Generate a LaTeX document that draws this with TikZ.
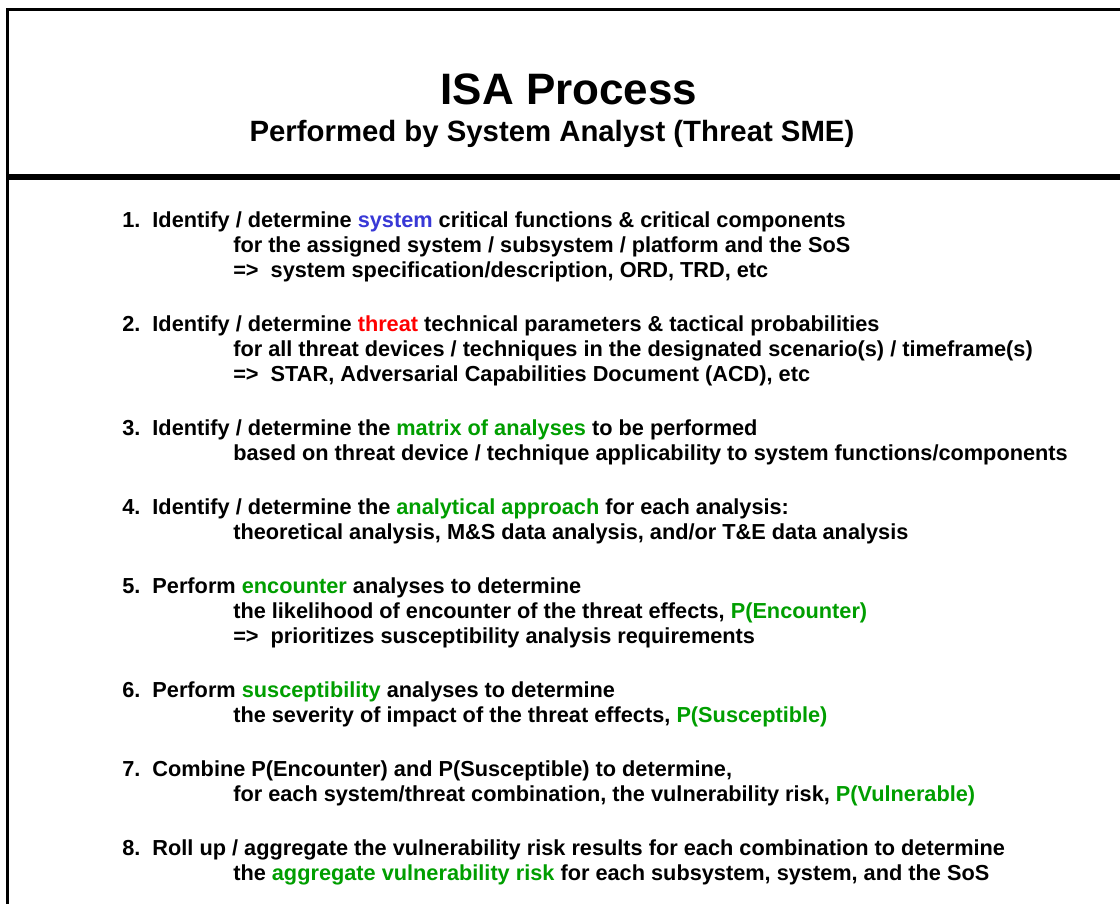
\documentclass[tikz,border=0pt]{standalone}
\usepackage{fontspec}
\setmainfont{Liberation Sans}
\usepackage{xcolor}
\definecolor{sysblue}{RGB}{56,56,214}
\definecolor{thrred}{RGB}{255,0,0}
\definecolor{keygreen}{RGB}{0,158,0}
\def\ind{\hspace*{83.25pt}}
\def\grn#1{\textcolor{keygreen}{#1}}

\begin{document}
\begin{tikzpicture}[x=0.75pt,y=-0.75pt,
  every node/.style={inner sep=0pt},
  head/.style={anchor=base,font=\bfseries\fontsize{33}{40}\selectfont},
  subhead/.style={anchor=base,font=\bfseries\fontsize{22}{26}\selectfont},
  item/.style={anchor=north west,align=left,font=\bfseries\fontsize{16.3}{18.75}\selectfont}]
\useasboundingbox (0,0) rectangle (1120,903);
% frame and header rule
\draw[line width=2.25pt] (1130,9.5) -- (7,9.5) -- (7,910);
\draw[line width=4.5pt] (7,177) -- (1130,177);
% header
\node[head] (title) at (569,104) {ISA Process};
\node[subhead] (sub) at (552,141) {Performed by System Analyst (Threat SME)};
% steps
\node[item] (i1) at (122,211.5) {1.\ \ Identify / determine \textcolor{sysblue}{system} critical functions \& critical components\\
  \ind for the assigned system / subsystem / platform and the SoS\\
  \ind =>\ \ system specification/description, ORD, TRD, etc};
\node[item] (i2) at (122,315.5) {2.\ \ Identify / determine \textcolor{thrred}{threat} technical parameters \& tactical probabilities\\
  \ind for all threat devices / techniques in the designated scenario(s) / timeframe(s)\\
  \ind =>\ \ STAR, Adversarial Capabilities Document (ACD), etc};
\node[item] (i3) at (122,419.5) {3.\ \ Identify / determine the \grn{matrix of analyses} to be performed\\
  \ind based on threat device / technique applicability to system functions/components};
\node[item] (i4) at (122,498.5) {4.\ \ Identify / determine the \grn{analytical approach} for each analysis:\\
  \ind theoretical analysis, M\&S data analysis, and/or T\&E data analysis};
\node[item] (i5) at (122,577.5) {5.\ \ Perform \grn{encounter} analyses to determine\\
  \ind the likelihood of encounter of the threat effects, \grn{P(Encounter)}\\
  \ind =>\ \ prioritizes susceptibility analysis requirements};
\node[item] (i6) at (122,681.5) {6.\ \ Perform \grn{susceptibility} analyses to determine\\
  \ind the severity of impact of the threat effects, \grn{P(Susceptible)}};
\node[item] (i7) at (122,760.5) {7.\ \ Combine P(Encounter) and P(Susceptible) to determine,\\
  \ind for each system/threat combination, the vulnerability risk, \grn{P(Vulnerable)}};
\node[item] (i8) at (122,839.5) {8.\ \ Roll up / aggregate the vulnerability risk results for each combination to determine\\
  \ind the \grn{aggregate vulnerability risk} for each subsystem, system, and the SoS};
\end{tikzpicture}
\end{document}
